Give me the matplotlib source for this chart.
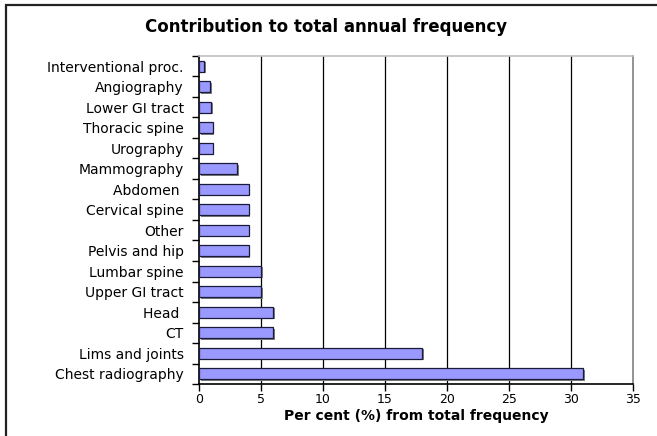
import matplotlib.pyplot as plt
from matplotlib.patches import Rectangle
import numpy as np

plt.rcParams['font.family'] = ['DejaVu Sans']

# categories from bottom to top
categories = ['Chest radiography', 'Lims and joints', 'CT', 'Head ', 'Upper GI tract',
              'Lumbar spine', 'Pelvis and hip', 'Other', 'Cervical spine', 'Abdomen ',
              'Mammography', 'Urography', 'Thoracic spine', 'Lower GI tract',
              'Angiography', 'Interventional proc.']
percent = [31, 18, 6, 6, 5, 5, 4, 4, 4, 4, 3.1, 1.1, 1.1, 1.0, 0.9, 0.4]
xticks = [0, 5, 10, 15, 20, 25, 30, 35]

fig = plt.figure(figsize=(6.57, 4.36), dpi=100)
# outer chart frame (only left and top edges are visible in the crop)
fig.patches.append(Rectangle((5.5 / 657, -0.1), 1.2, 1.1 - 5.5 / 436,
                             transform=fig.transFigure, fill=False,
                             edgecolor='#222222', linewidth=1.6))

ax = fig.add_axes([199 / 657, 1 - 384 / 436, 434 / 657, 328 / 436])
y = np.arange(len(categories))

# shadow then bar
ax.barh(y - 0.07, percent, height=0.52, left=0.14, color='#808080', zorder=2)
ax.barh(y, percent, height=0.52, color='#9999ff', edgecolor='#1a1a3a',
        linewidth=0.9, zorder=3)

ax.set_xlim(0, 35)
ax.set_ylim(-0.5, len(categories) - 0.5)
ax.set_xticks(xticks)
ax.set_xticklabels([str(t) for t in xticks], fontsize=9)
ax.set_yticks(y)
ax.set_yticklabels(categories, fontsize=10)
ax.tick_params(axis='y', length=0, pad=11)
ax.set_yticks(np.arange(-0.5, len(categories), 1), minor=True)
ax.tick_params(axis='y', which='minor', length=5, width=1, color='black', direction='out')
ax.tick_params(axis='x', length=5, width=1, direction='out', pad=1.5)

for t in xticks[1:-1]:
    ax.axvline(t, color='black', linewidth=0.9, zorder=1)

ax.spines['left'].set_color('black')
ax.spines['bottom'].set_color('black')
ax.spines['right'].set_color('#808080')
ax.spines['top'].set_color('#c0c0c0')
for s in ax.spines.values():
    s.set_linewidth(1.2)

ax.set_xlabel('Per cent (%) from total frequency', fontsize=10, fontweight='bold', labelpad=2)
fig.text(0.497, 1 - 27 / 436, 'Contribution to total annual frequency', ha='center', va='center',
         fontsize=12, fontweight='bold')

fig.savefig('out.png', dpi=100)
